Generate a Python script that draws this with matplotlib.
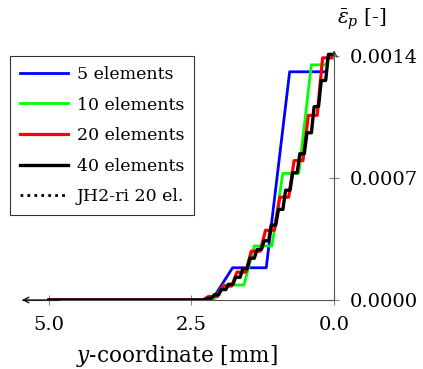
import numpy as np
import matplotlib
matplotlib.use("Agg")
import matplotlib.pyplot as plt

plt.rcParams['font.family'] = ['DejaVu Serif']
plt.rcParams['mathtext.fontset'] = 'dejavuserif'

# blue / green
x_5 = [5.0, 2.14, 1.78, 1.19, 0.78, 0.15]
y_5 = [0.0, 0.0, 0.000185, 0.000185, 0.00131, 0.00131]

x_10 = [5.0, 2.12, 1.93, 1.58, 1.40, 1.09, 0.90, 0.62, 0.40, 0.15, 0.08]
y_10 = [0.0, 0.0, 0.000086, 0.000086, 0.00031, 0.00031, 0.000727, 0.000727,
        0.00135, 0.00135, 0.00140]

# element values (from x=0 outwards) for the finer meshes
vals_20 = [0.00139, 0.00106, 0.00080, 0.00059, 0.00040, 0.00028, 0.00016,
           0.00008, 0.00002, 0.0]
vals_40 = [0.00141, 0.00126, 0.00111, 0.00096, 0.00084, 0.00073, 0.00063,
           0.00052, 0.00043, 0.00034, 0.00029, 0.00024, 0.00018, 0.00013,
           0.00009, 0.00006, 0.00003, 0.00001, 0.0]

length = 5.0


def staircase(vals, n_el, frac=0.62):
    # plateau in the middle of each element, slanted jump between them
    h = length / n_el
    xs, ys = [], []
    for i, v in enumerate(vals):
        c = (i + 0.5) * h
        xs += [c - frac * h / 2, c + frac * h / 2]
        ys += [v, v]
    xs.append(length)
    ys.append(0.0)
    return xs, ys


x_20, y_20 = staircase(vals_20, 20)
x_40, y_40 = staircase(vals_40, 40)

fig = plt.figure(figsize=(4.23, 3.69), dpi=100)
ax = fig.add_axes([0.052, 0.187, 0.738, 0.677])

ax.plot(x_5, y_5, color='#0000ff', lw=2.0, label='5 elements')
ax.plot(x_10, y_10, color='#00ff00', lw=2.0, label='10 elements')
ax.plot(x_20, y_20, color='#ff0000', lw=2.3, label='20 elements')
ax.plot(x_40, y_40, color='black', lw=2.4, label='40 elements')
ax.plot([], [], color='black', lw=2.0, ls=(0, (1, 1.5)), label='JH2-ri 20 el.')

ax.set_xlim(5.47, 0.0)
ax.set_ylim(0.0, 0.001434)

for s in ['top', 'left']:
    ax.spines[s].set_visible(False)
ax.spines['right'].set_color('#555555')
ax.spines['bottom'].set_color('#555555')
ax.spines['right'].set_bounds(0, 0.00138)

ax.yaxis.tick_right()
ax.set_xticks([5.0, 2.5, 0.0])
ax.set_xticklabels(['5.0', '2.5', '0.0'])
ax.set_yticks([0.0, 0.0007, 0.0014])
ax.set_yticklabels(['0.0000', '0.0007', '0.0014'])
ax.tick_params(axis='both', direction='inout', length=7, width=0.8,
               color='#888888', labelsize=14)
ax.tick_params(axis='x', pad=8)
ax.tick_params(axis='y', pad=8)

# axis arrows
ax.annotate('', xy=(5.47, 0), xytext=(4.8, 0),
            arrowprops=dict(arrowstyle='->', color='black', lw=0.9,
                            shrinkA=0, shrinkB=0))
ax.annotate('', xy=(0, 0.001434), xytext=(0, 0.00138),
            arrowprops=dict(arrowstyle='->', color='#333333', lw=0.9,
                            shrinkA=0, shrinkB=0))

fig.text(0.418, 0.018, r'$y$-coordinate [mm]', fontsize=15.5, ha='center')
fig.text(0.797, 0.935, r'$\bar{\epsilon}_p$ [-]', fontsize=14.5, ha='left')

leg = ax.legend(loc='upper left', bbox_to_anchor=(-0.038, 0.975), fontsize=12.5,
                frameon=True, fancybox=False, edgecolor='black',
                handlelength=2.8, handletextpad=0.5, borderpad=0.55,
                labelspacing=0.78, borderaxespad=0)
leg.get_frame().set_linewidth(0.8)

fig.savefig('out.png', dpi=100)
